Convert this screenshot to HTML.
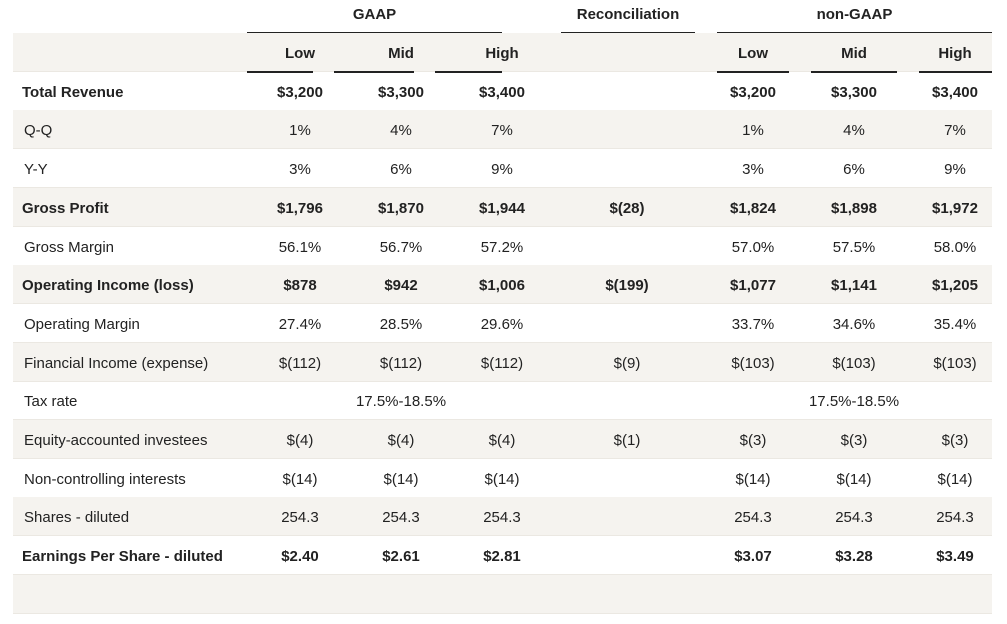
<!DOCTYPE html>
<html><head><style>
body{margin:0;width:1007px;height:624px;background:#fff;font-family:"Liberation Sans",sans-serif;color:#222;position:relative;overflow:hidden}
.r{position:absolute;left:13px;width:979px;height:38px;border-bottom:1px solid #ebe8e2}
.b{background:#f5f3ef}
.c{position:absolute;top:2px;height:38px;line-height:38px;font-size:15px;text-align:center;width:100px}
.l{position:absolute;top:2px;height:38px;line-height:38px;font-size:15px}
.bo{font-weight:bold}
.ln{position:absolute;height:2px;background:#222}
.h{position:absolute;font-weight:bold;font-size:15px;text-align:center}
</style></head><body>
<div class="h" style="left:247px;width:255px;top:6px">GAAP</div>
<div class="h" style="left:561px;width:134px;top:6px">Reconciliation</div>
<div class="h" style="left:717px;width:275px;top:6px">non-GAAP</div>
<div class="ln" style="left:247px;width:255px;top:32px"></div>
<div class="ln" style="left:561px;width:134px;top:32px"></div>
<div class="ln" style="left:717px;width:275px;top:32px"></div>
<div id="t"></div>
<script>
var rows=[
["",1,["Low","Mid","High","","Low","Mid","High"]],
["Total Revenue",1,["$3,200","$3,300","$3,400","","$3,200","$3,300","$3,400"]],
["Q-Q",0,["1%","4%","7%","","1%","4%","7%"]],
["Y-Y",0,["3%","6%","9%","","3%","6%","9%"]],
["Gross Profit",1,["$1,796","$1,870","$1,944","$(28)","$1,824","$1,898","$1,972"]],
["Gross Margin",0,["56.1%","56.7%","57.2%","","57.0%","57.5%","58.0%"]],
["Operating Income (loss)",1,["$878","$942","$1,006","$(199)","$1,077","$1,141","$1,205"]],
["Operating Margin",0,["27.4%","28.5%","29.6%","","33.7%","34.6%","35.4%"]],
["Financial Income (expense)",0,["$(112)","$(112)","$(112)","$(9)","$(103)","$(103)","$(103)"]],
["Tax rate",0,["","17.5%-18.5%","","","","17.5%-18.5%",""]],
["Equity-accounted investees",0,["$(4)","$(4)","$(4)","$(1)","$(3)","$(3)","$(3)"]],
["Non-controlling interests",0,["$(14)","$(14)","$(14)","","$(14)","$(14)","$(14)"]],
["Shares - diluted",0,["254.3","254.3","254.3","","254.3","254.3","254.3"]],
["Earnings Per Share - diluted",1,["$2.40","$2.61","$2.81","","$3.07","$3.28","$3.49"]],
["",0,["","","","","","",""]]
];
var cx=[300,401,502,627,753,854,955],h="";
rows.forEach(function(r,i){
 var top=33+i*38.7;
 h+='<div class="r'+(i%2==0?' b':'')+'" style="top:'+top+'px">';
 if(r[0])h+='<div class="l'+(r[1]?' bo':'')+'" style="left:'+(r[1]?9:11)+'px">'+r[0]+'</div>';
 r[2].forEach(function(v,j){if(v)h+='<div class="c'+(r[1]?' bo':'')+'" style="left:'+(cx[j]-13-50)+'px">'+v+'</div>';});
 h+='</div>';
});
[[247,313],[334,414],[435,502],[717,789],[811,897],[919,992]].forEach(function(a){h+='<div class="ln" style="left:'+a[0]+'px;width:'+(a[1]-a[0])+'px;top:71px"></div>';});
document.getElementById('t').innerHTML=h;
</script>
</body></html>
